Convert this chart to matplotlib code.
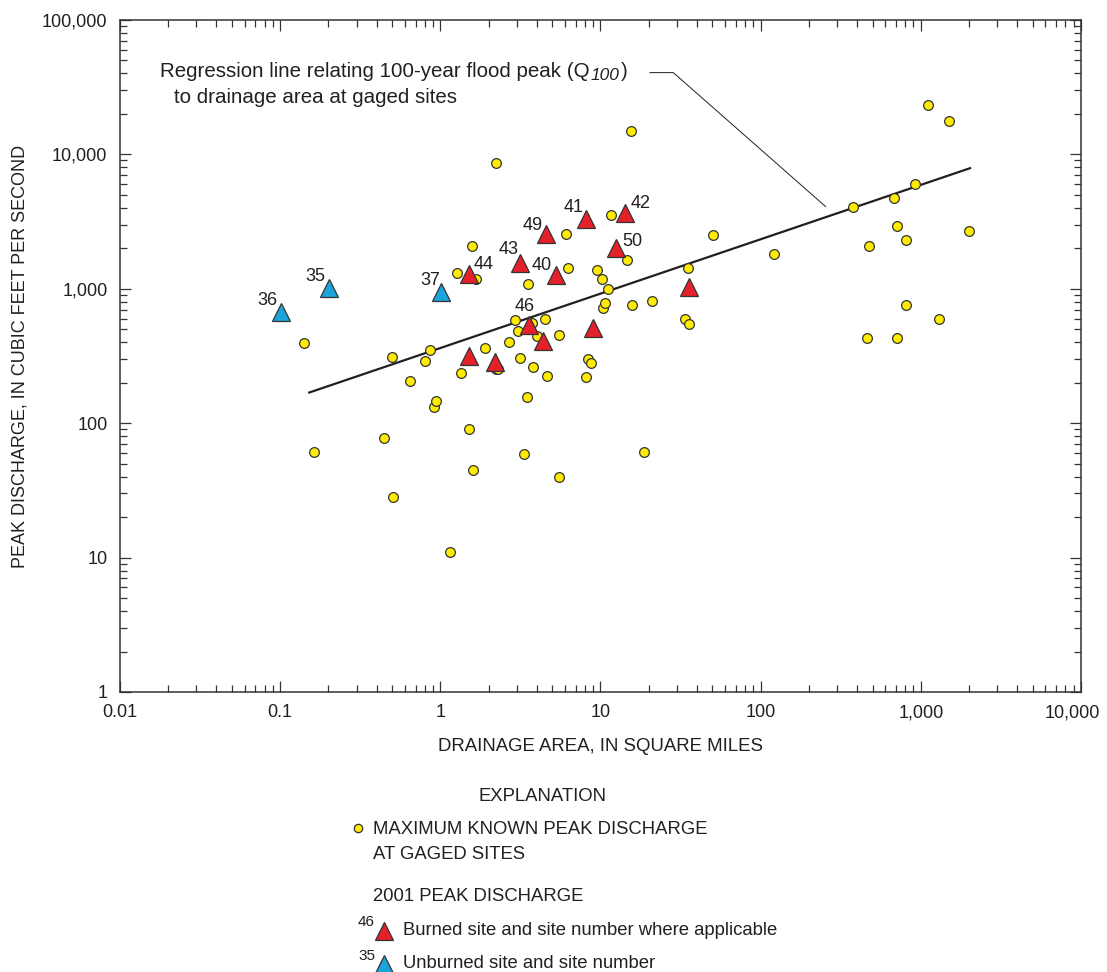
import matplotlib
matplotlib.use('Agg')
import matplotlib.pyplot as plt
from matplotlib.lines import Line2D
from matplotlib.ticker import LogLocator, NullFormatter

plt.rcParams['font.family'] = ['Liberation Sans', 'DejaVu Sans']

# maximum known peak discharge at gaged sites
gaged_area = [0.141, 0.162, 0.445, 0.497, 0.508, 0.646, 0.806, 0.866, 0.913, 0.935,
              1.15, 1.27, 1.35, 1.50, 1.58, 1.59, 1.67, 1.89, 2.23, 2.24,
              2.30, 2.67, 2.94, 3.04, 3.13, 3.35, 3.48, 3.53, 3.75, 3.81,
              4.04, 4.49, 4.62, 5.47, 5.52, 6.13, 6.28, 8.09, 8.41, 8.69,
              9.49, 10.2, 10.3, 10.6, 11.2, 11.6, 14.7, 15.6, 15.8, 18.8,
              20.9, 33.8, 35.1, 35.8, 50.6, 121, 376, 460, 476, 678,
              705, 711, 806, 806, 917, 1101, 1290, 1490, 1986]
gaged_peak = [393, 61, 77, 309, 28, 207, 291, 350, 131, 147,
              11, 1318, 237, 90, 2094, 45, 1183, 360, 8600, 251,
              251, 402, 583, 483, 305, 59, 156, 1080, 560, 262,
              445, 596, 224, 39.5, 453, 2558, 1421, 222, 299, 282,
              1380, 1177, 719, 780, 1002, 3525, 1630, 14960, 762, 60.6,
              811, 593, 1421, 550, 2516, 1816, 4045, 432, 2083, 4745,
              2936, 428, 2297, 757, 6030, 23240, 599, 17670, 2710]

# 2001 peak discharge, burned sites
burned_area = [1.52, 3.13, 4.58, 8.09, 14.2, 5.26, 12.5, 3.56, 1.52, 2.21, 4.36, 9.0, 35.8]
burned_peak = [1289, 1548, 2546, 3311, 3650, 1260, 2003, 538, 318, 287, 408, 508, 1026]
burned_site = ['44', '43', '49', '41', '42', '40', '50', '46', '', '', '', '', '']

# 2001 peak discharge, unburned sites
unburned_area = [0.101, 0.203, 1.01]
unburned_peak = [675, 1019, 951]
unburned_site = ['36', '35', '37']

# regression line end points (Q100 vs drainage area)
reg_area = [0.152, 2030]
reg_peak = [169, 7890]

# axis ticks
x_ticks = [0.01, 0.1, 1, 10, 100, 1000, 10000]
x_labels = ['0.01', '0.1', '1', '10', '100', '1,000', '10,000']
y_ticks = [1, 10, 100, 1000, 10000, 100000]
y_labels = ['1', '10', '100', '1,000', '10,000', '100,000']

ink = '#231f20'
yellow = '#ffec00'
red = '#e4202a'
blue = '#1ba3dc'
fs = 13

fig = plt.figure(figsize=(11.07, 9.72), dpi=100)
ax = fig.add_axes([0.1084, 0.2881, 0.8681, 0.6914])
ax.set_xscale('log')
ax.set_yscale('log')

ax.plot(reg_area, reg_peak, color=ink, lw=1.6, zorder=2)
ax.plot(gaged_area, gaged_peak, 'o', ms=7, mfc=yellow, mec='#333333', mew=0.9, zorder=3)
ax.plot(burned_area, burned_peak, '^', ms=13, mfc=red, mec='#333333', mew=0.9, zorder=4)
ax.plot(unburned_area, unburned_peak, '^', ms=13, mfc=blue, mec='#333333', mew=0.9, zorder=4)

offs = {'44': (10, 7), '43': (-8, 10), '49': (-10, 6), '41': (-9, 8), '42': (11, 7),
        '40': (-10, 7), '50': (12, 5), '46': (-3, 13), '36': (-10, 8), '35': (-10, 8),
        '37': (-8, 8)}
for a, q, s in list(zip(burned_area, burned_peak, burned_site)) + \
        list(zip(unburned_area, unburned_peak, unburned_site)):
    if s:
        ax.annotate(s, (a, q), xytext=offs[s], textcoords='offset points',
                    ha='center', va='center', fontsize=fs, color=ink, zorder=5)

# regression label with leader
afs = 14.8
t1 = ax.text(0.0416, 0.9226, 'Regression line relating 100-year flood peak (Q',
             transform=ax.transAxes, fontsize=afs, color=ink, va='center', ha='left')
t2 = ax.annotate('100', xy=(1, 0), xycoords=t1, xytext=(0.6, -1), textcoords='offset points',
                 fontsize=12.5, style='italic', color=ink, va='bottom', ha='left')
ax.annotate(')', xy=(1, 0), xycoords=(t2, t1), xytext=(0.8, 0), textcoords='offset points',
            fontsize=afs, color=ink, va='bottom', ha='left')
ax.text(0.056, 0.885, 'to drainage area at gaged sites',
        transform=ax.transAxes, fontsize=afs, color=ink, va='center', ha='left')
ax.plot([0.5515, 0.5758, 0.7343], [0.9216, 0.9216, 0.7222], transform=ax.transAxes,
        color=ink, lw=0.7)

# axes styling
ax.set_xticks(x_ticks, x_labels[:-1] + [''])
ax.set_yticks(y_ticks, y_labels)
ax.xaxis.set_minor_locator(LogLocator(base=10, subs=range(2, 10), numticks=12))
ax.yaxis.set_minor_locator(LogLocator(base=10, subs=range(2, 10), numticks=12))
ax.xaxis.set_minor_formatter(NullFormatter())
ax.yaxis.set_minor_formatter(NullFormatter())
ax.set_xlim(0.01, 10000)
ax.set_ylim(1, 100000)
ax.tick_params(which='both', direction='in', top=True, right=True, color='#333333',
               labelsize=fs, labelcolor=ink)
ax.tick_params(which='major', length=8, width=0.9, pad=9)
ax.tick_params(which='minor', length=5, width=0.9)
for sp in ax.spines.values():
    sp.set_linewidth(1.1)
    sp.set_color('#333333')
# last x label pulled in so it stays on the page
ax.annotate(x_labels[-1], xy=(1, 0), xycoords='axes fraction', xytext=(-6, -9),
            textcoords='offset points', ha='center', va='top', fontsize=fs, color=ink)

ax.set_xlabel('DRAINAGE AREA, IN SQUARE MILES', fontsize=13.4, color=ink, labelpad=12)
ax.set_ylabel('PEAK DISCHARGE, IN CUBIC FEET PER SECOND', fontsize=fs, color=ink, labelpad=10)

# explanation
def fx(px):
    return px / 1107


def fy(py):
    return 1 - py / 972


efs = 13.3
fig.text(fx(543), fy(796), 'EXPLANATION', fontsize=efs, color=ink, ha='center', va='center')
fig.add_artist(Line2D([fx(358)], [fy(828)], marker='o', ms=6, mfc=yellow, mec='#333333',
                      mew=0.9, transform=fig.transFigure))
fig.text(fx(373), fy(829), 'MAXIMUM KNOWN PEAK DISCHARGE', fontsize=efs, color=ink, va='center')
fig.text(fx(373), fy(854), 'AT GAGED SITES', fontsize=efs, color=ink, va='center')
fig.text(fx(373), fy(896), '2001 PEAK DISCHARGE', fontsize=efs, color=ink, va='center')
fig.text(fx(375), fy(922), '46', fontsize=11, color=ink, va='center', ha='right')
fig.add_artist(Line2D([fx(384)], [fy(931)], marker='^', ms=13, mfc=red, mec='#333333',
                      mew=0.9, transform=fig.transFigure))
fig.text(fx(403), fy(930), 'Burned site and site number where applicable', fontsize=efs,
         color=ink, va='center')
fig.text(fx(375), fy(956), '35', fontsize=11, color=ink, va='center', ha='right')
fig.add_artist(Line2D([fx(384)], [fy(964)], marker='^', ms=13, mfc=blue, mec='#333333',
                      mew=0.9, transform=fig.transFigure))
fig.text(fx(403), fy(963), 'Unburned site and site number', fontsize=efs, color=ink, va='center')

fig.savefig('out.png', dpi=100)
